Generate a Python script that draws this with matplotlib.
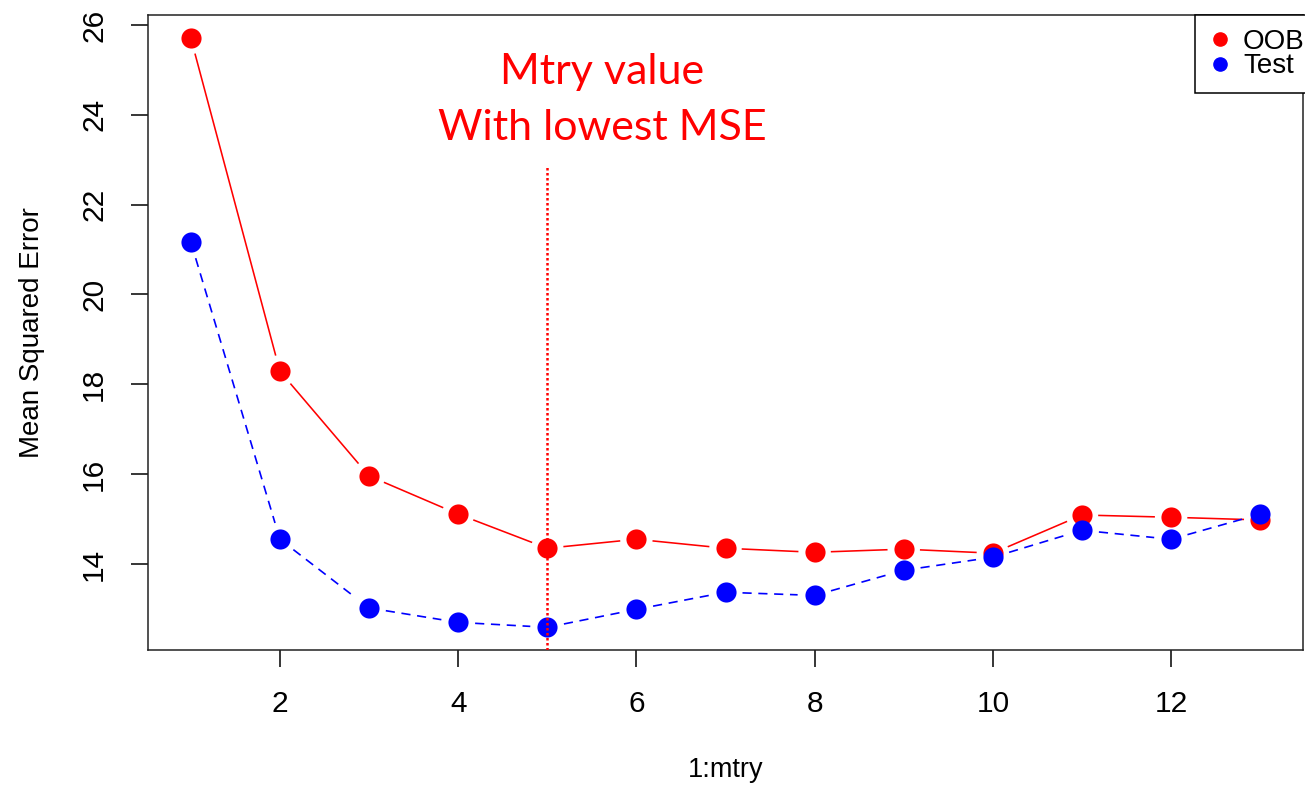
import numpy as np
import matplotlib
matplotlib.use("Agg")
import matplotlib.pyplot as plt
from matplotlib.lines import Line2D

# values
mtry = [1, 2, 3, 4, 5, 6, 7, 8, 9, 10, 11, 12, 13]
oob_mse = [25.71, 18.29, 15.96, 15.11, 14.35, 14.55, 14.35, 14.26, 14.33, 14.24, 15.09, 15.04, 14.98]
test_mse = [21.17, 14.55, 13.02, 12.70, 12.59, 12.99, 13.37, 13.30, 13.86, 14.15, 14.75, 14.55, 15.11]
best_mtry = 5
x_ticks = [2, 4, 6, 8, 10, 12]
y_ticks = [14, 16, 18, 20, 22, 24, 26]

plt.rcParams['font.family'] = ['Liberation Sans', 'DejaVu Sans']

W, H = 1305, 789
fig = plt.figure(figsize=(W / 100, H / 100), dpi=100)
ax = fig.add_axes([148 / W, 139 / H, (1303 - 148) / W, (650 - 15) / H])
ax.set_xlim(0.52, 13.48)
ax.set_ylim(12.085, 26.22)


def gapped_line(ax, xs, ys, gap, **kw):
    # R type="b": segments stop short of each point
    pts = ax.transData.transform(np.column_stack([xs, ys]))
    inv = ax.transData.inverted()
    for p0, p1 in zip(pts[:-1], pts[1:]):
        d = p1 - p0
        L = np.hypot(d[0], d[1])
        if L <= 2 * gap:
            continue
        u = d / L
        a = inv.transform(p0 + u * gap)
        b = inv.transform(p1 - u * gap)
        ax.plot([a[0], b[0]], [a[1], b[1]], **kw)


gapped_line(ax, mtry, oob_mse, 17, color='red', lw=1.15, zorder=2)
ax.plot(mtry, oob_mse, 'o', color='red', ms=14.5, mec='none', zorder=3)
gapped_line(ax, mtry, test_mse, 17, color='blue', lw=1.2, dashes=(5.5, 4), zorder=4)
ax.plot(mtry, test_mse, 'o', color='blue', ms=14.5, mec='none', zorder=5)

# dotted marker line at the best mtry
ax.vlines(best_mtry, 12.085, 22.88, colors='red', lw=1.8, linestyles=(0, (1, 1)), zorder=6)
ax.text(5.62, 24.95, 'Mtry value', color='red', fontsize=31, family=['Lato', 'DejaVu Sans'],
        ha='center', va='center')
ax.text(5.62, 23.70, 'With lowest MSE', color='red', fontsize=31, family=['Lato', 'DejaVu Sans'],
        ha='center', va='center')

ax.set_xticks(x_ticks)
ax.set_yticks(y_ticks)
ax.tick_params(axis='both', direction='out', length=12.2, width=1.1, labelsize=21.5, pad=16.5, colors='black')
plt.setp(ax.get_yticklabels(), rotation=90, va='center')
for s in ax.spines.values():
    s.set_linewidth(1.1)
    s.set_color('#222222')

ax.set_xlabel('1:mtry', fontsize=19.5)
ax.set_ylabel('Mean Squared Error', fontsize=20)
ax.xaxis.set_label_coords(0.5, -0.168)
ax.yaxis.set_label_coords(-0.089, 0.5)

handles = [Line2D([], [], ls='none', marker='o', color='red', ms=9.5),
           Line2D([], [], ls='none', marker='o', color='blue', ms=9.5)]
leg = fig.legend(handles, ['OOB', 'Test'], loc='upper left',
                 bbox_to_anchor=(1195 / W, (H - 15) / H), bbox_transform=fig.transFigure,
                 borderaxespad=0, fontsize=20, handlelength=0.8, handletextpad=0.43,
                 labelspacing=-0.06, borderpad=0.5, fancybox=False, framealpha=1,
                 edgecolor='black')
leg.get_frame().set_linewidth(1.1)

fig.savefig('out.png', dpi=100)
